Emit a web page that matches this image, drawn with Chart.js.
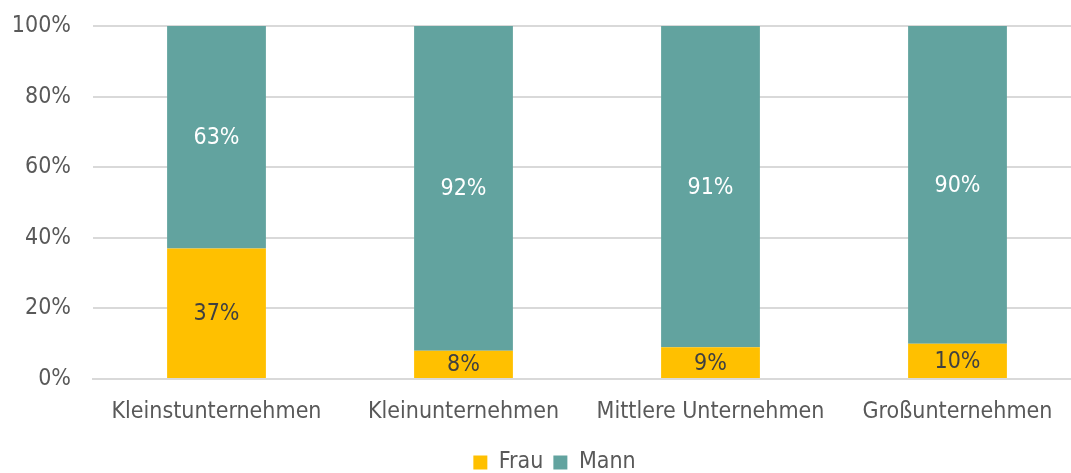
<!DOCTYPE html>
<html>
<head>
<meta charset="utf-8">
<script src="https://cdn.jsdelivr.net/npm/chart.js@4/dist/chart.umd.min.js"></script>
<style>
  html, body { margin: 0; padding: 0; background: #fff; overflow: hidden; }
  #wrap { width: 1071px; height: 473px; overflow: hidden; }
</style>
</head>
<body>
<div id="wrap"><canvas id="chart" width="1081" height="484"></canvas></div>
<script>
const categories = ['Kleinstunternehmen', 'Kleinunternehmen', 'Mittlere Unternehmen', 'Großunternehmen'];
const frau = [37, 8, 9, 10];
const mann = [63, 92, 91, 90];
const yTicks = [0, 20, 40, 60, 80, 100];

const FONT = "'DejaVu Sans Condensed', 'DejaVu Sans', sans-serif";
const SIZE = 23;
const TEXT = '#595959';

// writes the percentage in the middle of each stacked segment
const segmentLabels = {
    id: 'segmentLabels',
    afterDatasetsDraw(chart) {
        const ctx = chart.ctx;
        ctx.save();
        ctx.font = SIZE + 'px ' + FONT;
        ctx.textAlign = 'center';
        ctx.textBaseline = 'middle';
        chart.data.datasets.forEach((ds, i) => {
            chart.getDatasetMeta(i).data.forEach((bar, j) => {
                const mid = (bar.y + bar.base) / 2;
                ctx.fillStyle = ds.labelColor;
                ctx.fillText(ds.data[j] + '%', bar.x, mid + 1);
            });
        });
        ctx.restore();
    }
};

// nudge the legend a bit to the right of the canvas centre
const legendShift = {
    id: 'legendShift',
    afterLayout(chart) {
        if (!chart.legend) return;
        chart.legend.left += 14;
        chart.legend.right += 14;
    }
};

new Chart(document.getElementById('chart'), {
    type: 'bar',
    data: {
        labels: categories,
        datasets: [
            { label: 'Frau', data: frau, backgroundColor: '#FFC000', labelColor: '#404040' },
            { label: 'Mann', data: mann, backgroundColor: '#62A39F', labelColor: '#ffffff' }
        ]
    },
    options: {
        responsive: false,
        animation: false,
        layout: { padding: { top: 26, right: 0, bottom: 0, left: 0 } },
        datasets: { bar: { categoryPercentage: 1, barPercentage: 0.4 } },
        plugins: {
            legend: {
                position: 'bottom',
                labels: {
                    font: { family: FONT, size: SIZE },
                    color: TEXT,
                    boxWidth: 14,
                    boxHeight: 14,
                    padding: 10
                }
            },
            tooltip: { enabled: false }
        },
        scales: {
            x: {
                stacked: true,
                grid: { display: false },
                border: { color: '#d9d9d9', width: 2 },
                afterFit: (axis) => { axis.height = 62; },
                ticks: { font: { family: FONT, size: SIZE }, color: TEXT, padding: 11 }
            },
            y: {
                stacked: true,
                min: 0,
                max: 100,
                afterBuildTicks: (axis) => { axis.ticks = yTicks.map(v => ({ value: v })); },
                afterFit: (axis) => {
                    axis.width = 93;
                    axis.paddingTop = 0;
                    axis.paddingBottom = 0;
                },
                grid: { color: '#d9d9d9', lineWidth: 2, drawTicks: false },
                border: { display: false },
                ticks: {
                    font: { family: FONT, size: SIZE },
                    color: TEXT,
                    padding: 22,
                    callback: v => v + '%'
                }
            }
        }
    },
    plugins: [segmentLabels, legendShift]
});
</script>
</body>
</html>
